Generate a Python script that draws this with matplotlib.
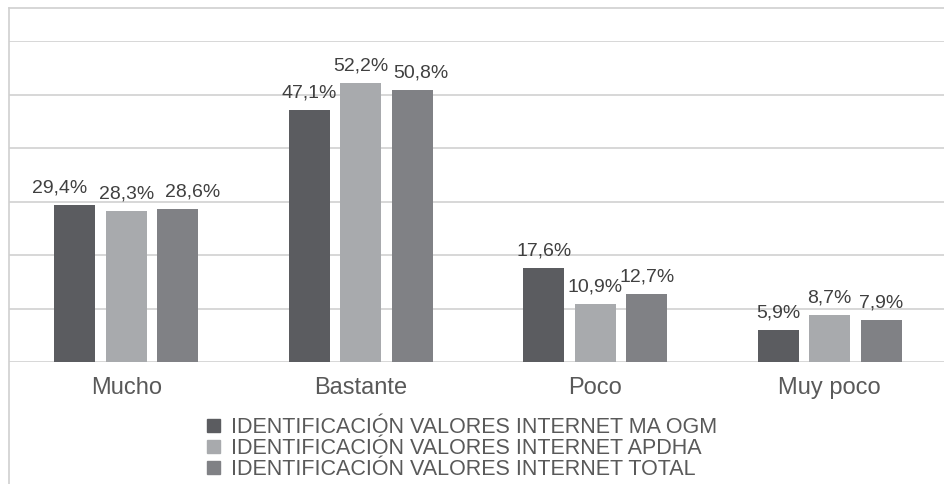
import matplotlib
matplotlib.use("Agg")
import matplotlib.pyplot as plt
from matplotlib.lines import Line2D
import numpy as np

categories = ["Mucho", "Bastante", "Poco", "Muy poco"]
series_names = [
    "IDENTIFICACIÓN VALORES INTERNET MA OGM",
    "IDENTIFICACIÓN VALORES INTERNET APDHA",
    "IDENTIFICACIÓN VALORES INTERNET TOTAL",
]
ma_ogm = [29.4, 47.1, 17.6, 5.9]
apdha = [28.3, 52.2, 10.9, 8.7]
total = [28.6, 50.8, 12.7, 7.9]
colors = ["#5b5c60", "#a8aaad", "#808185"]

# horizontal nudges (points) of data labels, as placed in the original chart
label_nudge = [
    [-11, 0, 0, 0],
    [0, 0, 0, 0],
    [11, 6, 0, 0],
]

plt.rcParams["font.family"] = ["Liberation Sans", "DejaVu Sans"]

W, H = 944, 484
fig = plt.figure(figsize=(W / 100, H / 100), dpi=100)
ax = fig.add_axes([9 / W, (H - 362) / H, (947 - 9) / W, (362 - 41) / H])

x = np.arange(len(categories))
width = 0.175
offsets = [-0.22, 0.0, 0.22]
for si, (vals, off, col) in enumerate(zip([ma_ogm, apdha, total], offsets, colors)):
    bars = ax.bar(x + off, vals, width, color=col, zorder=3)
    for ci, (b, v) in enumerate(zip(bars, vals)):
        ax.annotate(f"{v:.1f}%".replace(".", ","),
                    (b.get_x() + b.get_width() / 2, v),
                    xytext=(label_nudge[si][ci], 9), textcoords="offset points",
                    ha="center", va="baseline", fontsize=14, color="#404040")

ax.set_xlim(-0.5, 3.5)
ax.set_ylim(0, 60)
ax.set_yticks(np.arange(0, 61, 10))
ax.yaxis.grid(True, color="#d4d4d4", linewidth=1.3, zorder=0)
ax.tick_params(axis="y", left=False, labelleft=False)
ax.set_xticks(x)
ax.set_xticklabels(categories, fontsize=17, color="#595959")
ax.tick_params(axis="x", length=0, pad=11)
for s in ax.spines.values():
    s.set_visible(False)

# chart-area border (top and left)
fig.add_artist(Line2D([9 / W, 1.0], [1 - 7.5 / H, 1 - 7.5 / H], transform=fig.transFigure,
                      color="#d0d0d0", linewidth=1.2))
fig.add_artist(Line2D([9 / W, 9 / W], [0, 1 - 7.5 / H], transform=fig.transFigure,
                      color="#d0d0d0", linewidth=1.2))

handles = [plt.Rectangle((0, 0), 1, 1, color=c) for c in colors]
fig.legend(handles, series_names, loc="upper left",
           bbox_to_anchor=(207 / W, 1 - 417 / H), bbox_transform=fig.transFigure,
           frameon=False, fontsize=15.5, handlelength=0.6, handleheight=0.6,
           handletextpad=0.5, labelspacing=0.0, borderpad=0, borderaxespad=0,
           labelcolor="#595959")

fig.savefig("out.png", dpi=100)
